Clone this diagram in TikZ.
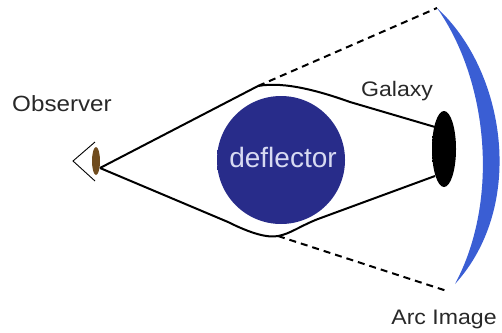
\documentclass[tikz,border=0pt]{standalone}
\usepackage{fontspec}
\setmainfont{Liberation Sans}
\newfontfamily\labfont[FakeStretch=1.1]{Liberation Sans}
\usetikzlibrary{shapes.geometric}
\definecolor{navy}{RGB}{40,44,138}
\definecolor{arcblue}{RGB}{58,94,212}
\definecolor{lab}{RGB}{40,40,40}
\definecolor{iris}{RGB}{112,76,30}
\pgfdeclareradialshading{lensglow}{\pgfpoint{0bp}{0bp}}{%
  color(0bp)=(navy); color(42bp)=(navy); color(45bp)=(navy!75!white);
  color(47.5bp)=(navy!40!white); color(50bp)=(white)}
\pgfdeclareradialshading{galglow}{\pgfpoint{0bp}{0bp}}{%
  color(0bp)=(black); color(42bp)=(black); color(46bp)=(black!75!white);
  color(50bp)=(white)}
\tikzset{
  ray/.style={line width=2pt, black},
  sightline/.style={line width=2pt, black, dash pattern=on 7pt off 5pt},
  lbl/.style={text=lab, font=\labfont\fontsize{21}{21}\selectfont, inner sep=1pt},
}
\begin{document}
\begin{tikzpicture}[x=1pt, y=-1pt]
\useasboundingbox (0,0) rectangle (502,332);

% deflector with soft edge
\shade[shading=lensglow] (281,160) circle (64);
\node (defl) at (283,157) {\color[RGB]{215,218,242}\fontsize{28}{28}\selectfont deflector};

% observer eye
\draw[line width=0.9pt] (95,142) -- (73,161) -- (95,181);
\fill[iris] (96,161) ellipse (4 and 14);
\coordinate (obs) at (100,168);
\node[lbl, font=\labfont\fontsize{22}{22}\selectfont] (obslabel) at (62,104) {Observer};

% galaxy source
\node[ellipse, shading=galglow, minimum width=24pt, minimum height=76pt, inner sep=0pt] (gal) at (444,149) {};
\coordinate (gtop) at (435,127);
\coordinate (gbot) at (435,176);

% arc image
\coordinate (atop) at (437,8);
\coordinate (abot) at (455,284);
\fill[arcblue] (atop) .. controls (505,70) and (527,205) .. (abot)
  .. controls (500,200) and (488,80) .. (atop);

% light rays
\coordinate (kup) at (258,86);
\coordinate (klow) at (278,236);
\draw[ray] (obs) -- (kup) .. controls (285,81) and (322,92) .. (350,102) -- (gtop);
\draw[ray] (obs) -- (228,222) .. controls (252,234) and (268,238) .. (klow)
  .. controls (290,234) and (300,226) .. (318,219) -- (gbot);

% apparent directions
\draw[sightline] (kup) -- (atop);
\draw[sightline] (klow) -- (447,291);

\node[lbl, fill=white] (gallabel) at (397,91) {Galaxy};
\node[lbl] (arclabel) at (444,319) {Arc Image};
\end{tikzpicture}
\end{document}
